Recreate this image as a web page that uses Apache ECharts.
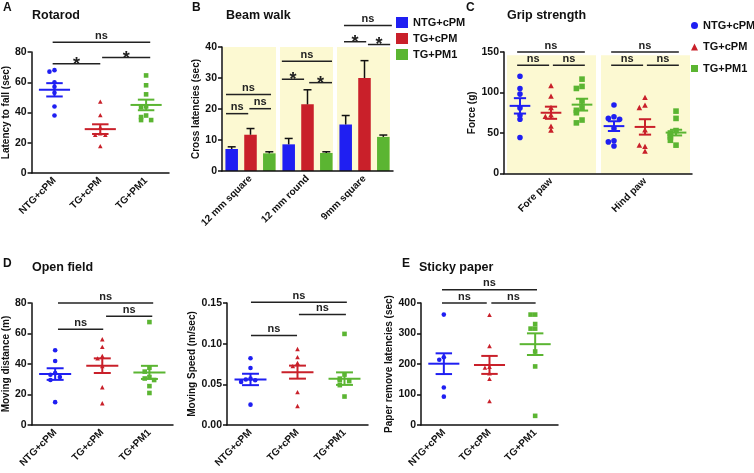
<!DOCTYPE html>
<html>
<head>
<meta charset="utf-8">
<script src="https://cdn.jsdelivr.net/npm/echarts@6/dist/echarts.min.js"></script>
<style>
html, body { margin: 0; padding: 0; background: #fff; }
#main { width: 754px; height: 473px; }
</style>
</head>
<body>
<div id="main"></div>
<script>
// groups and colours
var groups = ['NTG+cPM', 'TG+cPM', 'TG+PM1'];
var colors = ['#1f1ff2', '#c9202a', '#5bb532'];
var symbols = ['circle', 'triangle', 'rect'];

// A rotarod
var rotarodPts = [
    [68, 67, 60, 57, 53, 44, 38],
    [47, 38, 30, 26, 25, 25, 17.5],
    [64.5, 58, 52, 44, 43.5, 38, 37, 35, 35]
];
var rotarodMean = [55, 29, 45];
var rotarodSem = [4.4, 3.2, 3.5];
var rotarodSig = [[-0.04, 2.09, 86.5, 'ns'], [-0.04, 1.0, 72.3, '*'], [1.04, 2.09, 76.3, '*']];

// B beam walk
var beamCats = ['12 mm square', '12 mm round', '9mm square'];
var beamMean = [[7.1, 8.6, 15.0], [11.7, 21.5, 30.0], [5.7, 5.8, 11.0]];
var beamSem = [[0.7, 1.9, 2.9], [2.0, 4.7, 5.6], [0.5, 0.4, 0.6]];
var beamSig = [
    [-0.43, 0.36, 24.7, 'ns'], [-0.43, -0.04, 18.5, 'ns'], [-0.02, 0.36, 20.1, 'ns'],
    [0.55, 1.43, 35.4, 'ns'], [0.55, 0.94, 29.6, '*'], [1.03, 1.43, 28.5, '*'],
    [1.64, 2.48, 46.9, 'ns'], [1.64, 2.03, 41.7, '*'], [2.06, 2.45, 40.8, '*']
];

// C grip strength
var gripCats = ['Fore paw', 'Hind paw'];
var gripPts = [
    [120, 105, 98, 81, 72, 67, 44.5],
    [108, 95, 81, 72, 70, 58, 53],
    [116.5, 107.5, 105, 89.5, 81, 78, 75, 66, 62.5],
    [84.5, 70, 68, 67, 55.5, 40.5, 39, 34],
    [93.5, 84, 81, 53.5, 33, 34.5, 27],
    [77, 68, 53, 50, 47, 45, 41, 35]
];
var gripMean = [83.5, 75, 85, 58.5, 57.5, 50.5];
var gripSem = [9.5, 7.5, 7.3, 6, 9.5, 3.5];
var gripSig = [
    [-0.36, 0.36, 150, 'ns'], [-0.36, -0.02, 133.6, 'ns'], [0.02, 0.36, 133.6, 'ns'],
    [0.64, 1.36, 150, 'ns'], [0.64, 0.98, 133.6, 'ns'], [1.02, 1.36, 133.6, 'ns']
];

// D open field
var distPts = [
    [49, 42, 34, 33, 31.5, 29.5, 15],
    [56, 51, 45, 43.5, 38.5, 24.5, 14],
    [67.5, 37.5, 35, 31.5, 30.5, 29.5, 25.5, 21]
];
var distMean = [33.4, 38.9, 34.5];
var distSem = [3.8, 4.8, 4.3];
var distSig = [[0.06, 2.08, 80, 'ns'], [1.08, 2.06, 71.3, 'ns'], [0.06, 1.02, 62.8, 'ns']];

var speedPts = [
    [0.082, 0.070, 0.057, 0.056, 0.055, 0.053, 0.025],
    [0.093, 0.083, 0.076, 0.072, 0.040, 0.023],
    [0.112, 0.062, 0.057, 0.055, 0.054, 0.049, 0.035]
];
var speedMean = [0.056, 0.065, 0.057];
var speedSem = [0.007, 0.008, 0.0077];
var speedSig = [[0.01, 2.05, 0.151, 'ns'], [1.03, 2.03, 0.136, 'ns'], [0.01, 0.99, 0.110, 'ns']];

// E sticky paper
var stickyPts = [
    [362, 222, 214, 123, 93],
    [360, 258, 190, 187, 168, 150, 77],
    [362, 362, 331, 316, 316, 241, 192, 30]
];
var stickyMean = [201, 197, 265];
var stickySem = [34, 29.5, 35.5];
var stickySig = [[-0.04, 2.04, 443.7, 'ns'], [-0.04, 0.94, 400, 'ns'], [1.04, 2.01, 400, 'ns']];

var FONT = '"Liberation Sans", Arial, sans-serif';
var INK = '#111';

var chart = echarts.init(document.getElementById('main'));

// pixel position of (x in category units, value)
function toPx(api, x, v) {
    var p = api.coord([0, v]);
    var band = api.size([1, 0], [0, v])[0];
    return [p[0] + x * band, p[1], band];
}

// spread points that would overlap
function swarm(vals, thr, step) {
    var placed = [];
    return vals.map(function (v) {
        var k = placed.filter(function (p) { return Math.abs(p - v) < thr; }).length;
        placed.push(v);
        return k === 0 ? 0 : (k % 2 ? -1 : 1) * Math.ceil(k / 2) * step;
    });
}

function symbolShape(sym, x, y, r, col) {
    if (sym === 'circle') {
        return { type: 'circle', shape: { cx: x, cy: y, r: r }, style: { fill: col } };
    }
    if (sym === 'triangle') {
        return { type: 'polygon', shape: { points: [[x, y - r * 1.1], [x - r, y + r * 0.8], [x + r, y + r * 0.8]] }, style: { fill: col } };
    }
    return { type: 'rect', shape: { x: x - r, y: y - r, width: 2 * r, height: 2 * r }, style: { fill: col } };
}

function pointSeries(ax, name, vals, base, g, r, thr, step) {
    var jit = swarm(vals, thr, step);
    return {
        type: 'custom', name: name, xAxisIndex: ax, yAxisIndex: ax, z: 4, silent: true,
        itemStyle: { color: colors[g] },
        data: vals.map(function (v, i) { return [0, v, base + jit[i]]; }),
        renderItem: function (params, api) {
            var p = toPx(api, api.value(2), api.value(1));
            return symbolShape(symbols[g], p[0], p[1], r, colors[g]);
        }
    };
}

function meanSeries(ax, xs, means, sems, wm, wc) {
    return {
        type: 'custom', xAxisIndex: ax, yAxisIndex: ax, z: 5, silent: true,
        data: means.map(function (m, i) { return [0, m]; }),
        renderItem: function (params, api) {
            var i = params.dataIndex;
            var p = toPx(api, xs[i], means[i]);
            var band = p[2], x = p[0];
            var yt = api.coord([0, means[i] + sems[i]])[1];
            var yb = api.coord([0, means[i] - sems[i]])[1];
            var st = { stroke: colors[i % 3], lineWidth: 2 };
            return {
                type: 'group', children: [
                    { type: 'line', shape: { x1: x - wm * band / 2, y1: p[1], x2: x + wm * band / 2, y2: p[1] }, style: st },
                    { type: 'line', shape: { x1: x, y1: yt, x2: x, y2: yb }, style: st },
                    { type: 'line', shape: { x1: x - wc * band / 2, y1: yt, x2: x + wc * band / 2, y2: yt }, style: st },
                    { type: 'line', shape: { x1: x - wc * band / 2, y1: yb, x2: x + wc * band / 2, y2: yb }, style: st }
                ]
            };
        }
    };
}

function sigSeries(ax, list) {
    return {
        type: 'custom', xAxisIndex: ax, yAxisIndex: ax, z: 5, silent: true,
        data: list.map(function (d) { return [0, d[2]]; }),
        renderItem: function (params, api) {
            var d = list[params.dataIndex];
            var a = toPx(api, d[0], d[2]);
            var b = toPx(api, d[1], d[2]);
            var y = a[1];
            var star = d[3] === '*';
            return {
                type: 'group', children: [
                    { type: 'line', shape: { x1: a[0], y1: y, x2: b[0], y2: y }, style: { stroke: '#222', lineWidth: 1.5 } },
                    {
                        type: 'text', style: {
                            text: d[3], x: (a[0] + b[0]) / 2, y: star ? y + 1 : y - 1,
                            align: 'center', verticalAlign: star ? 'middle' : 'bottom',
                            font: 'bold ' + (star ? 18 : 11) + 'px ' + FONT, fill: '#222'
                        }
                    }
                ]
            };
        }
    };
}

function shadeSeries(ax, n, top, padL, padR) {
    var d = [];
    for (var i = 0; i < n; i++) d.push([i, top]);
    return {
        type: 'custom', xAxisIndex: ax, yAxisIndex: ax, z: 1, silent: true, data: d,
        renderItem: function (params, api) {
            var band = api.size([1, 0], [0, 0])[0];
            var p = api.coord([api.value(0), api.value(1)]);
            var b = api.coord([api.value(0), 0]);
            return {
                type: 'rect',
                shape: { x: p[0] - band / 2 + padL, y: p[1], width: band - padL - padR, height: b[1] - p[1] },
                style: { fill: '#fcf9d2' }
            };
        }
    };
}

function errSeries(ax, means, sems, g) {
    return {
        type: 'custom', xAxisIndex: ax, yAxisIndex: ax, z: 3, silent: true,
        data: means.map(function (m, i) { return [i, m, sems[i]]; }),
        renderItem: function (params, api) {
            var band = api.size([1, 0], [0, 0])[0];
            var c = api.value(0), m = api.value(1), s = api.value(2);
            var p0 = api.coord([c, m]);
            var x = p0[0] + (g - 1) * 0.33 * band;
            var y1 = api.coord([c, m + s])[1];
            var w = band * 0.07;
            var st = { stroke: INK, lineWidth: 1.5 };
            return {
                type: 'group', children: [
                    { type: 'line', shape: { x1: x, y1: p0[1], x2: x, y2: y1 }, style: st },
                    { type: 'line', shape: { x1: x - w, y1: y1, x2: x + w, y2: y1 }, style: st }
                ]
            };
        }
    };
}

function yAx(gi, min, max, interval, name, gap, fmt) {
    return {
        type: 'value', gridIndex: gi, min: min, max: max, interval: interval, z: 10,
        name: name, nameLocation: 'middle', nameGap: gap,
        nameTextStyle: { fontFamily: FONT, fontWeight: 'bold', fontSize: 10, color: INK },
        axisLine: { show: true, lineStyle: { color: INK, width: 1.5 } },
        axisTick: { show: true, length: 4, lineStyle: { color: INK, width: 1.5 } },
        axisLabel: { fontFamily: FONT, fontWeight: 'bold', fontSize: 10.5, color: INK, margin: 5, formatter: fmt },
        splitLine: { show: false }
    };
}

function xAx(gi, cats) {
    return {
        type: 'category', gridIndex: gi, data: cats, z: 10,
        axisLine: { lineStyle: { color: INK, width: 1.5 } },
        axisTick: { alignWithLabel: true, length: 4, lineStyle: { color: INK, width: 1.5 } },
        axisLabel: { rotate: 45, interval: 0, fontFamily: FONT, fontWeight: 'bold', fontSize: 10, color: INK, margin: 6 },
        splitLine: { show: false }
    };
}

var series = [];

// B bars first, so legends take their colours
groups.forEach(function (g, i) {
    series.push({
        type: 'bar', name: g, xAxisIndex: 1, yAxisIndex: 1, z: 2, silent: true,
        barWidth: '22%', barGap: '50%',
        itemStyle: { color: colors[i] },
        data: beamMean[i]
    });
});
series.push(shadeSeries(1, 3, 40, 1, 3));
groups.forEach(function (g, i) { series.push(errSeries(1, beamMean[i], beamSem[i], i)); });
series.push(sigSeries(1, beamSig));

// A
rotarodPts.forEach(function (v, i) { series.push(pointSeries(0, 'A' + i, v, i, i, 2.3, 2.8, 0.11)); });
series.push(meanSeries(0, [0, 1, 2], rotarodMean, rotarodSem, 0.68, 0.36));
series.push(sigSeries(0, rotarodSig));

// C
var gripX = [-0.33, 0, 0.33, 0.67, 1, 1.33];
series.push(shadeSeries(2, 2, 146, 3, 2));
gripPts.forEach(function (v, i) { series.push(pointSeries(2, groups[i % 3], v, gripX[i], i % 3, 2.8, 5, 0.06)); });
series.push(meanSeries(2, gripX, gripMean, gripSem, 0.22, 0.13));
series.push(sigSeries(2, gripSig));

// D
distPts.forEach(function (v, i) { series.push(pointSeries(3, 'D' + i, v, i, i, 2.3, 2.8, 0.1)); });
series.push(meanSeries(3, [0, 1, 2], distMean, distSem, 0.68, 0.36));
series.push(sigSeries(3, distSig));

speedPts.forEach(function (v, i) { series.push(pointSeries(4, 'S' + i, v, i, i, 2.3, 0.005, 0.1)); });
series.push(meanSeries(4, [0, 1, 2], speedMean, speedSem, 0.68, 0.36));
series.push(sigSeries(4, speedSig));

// E
stickyPts.forEach(function (v, i) { series.push(pointSeries(5, 'E' + i, v, i, i, 2.3, 14, 0.1)); });
series.push(meanSeries(5, [0, 1, 2], stickyMean, stickySem, 0.68, 0.36));
series.push(sigSeries(5, stickySig));

function ttl(text, left, top, size) {
    return { text: text, left: left, top: top, padding: 0, textStyle: { fontFamily: FONT, fontWeight: 'bold', fontSize: size, color: INK } };
}

var option = {
    animation: false,
    title: [
        ttl('A', 3, 2, 12), ttl('Rotarod', 32, 9, 12.5),
        ttl('B', 192, 2, 12), ttl('Beam walk', 226, 9, 12.5),
        ttl('C', 466, 2, 12), ttl('Grip strength', 507, 9, 12.5),
        ttl('D', 3, 258, 12), ttl('Open field', 32, 261, 12.5),
        ttl('E', 402, 258, 12), ttl('Sticky paper', 419, 261, 12.5)
    ],
    legend: [
        {
            left: 396, top: 17, orient: 'vertical', padding: 0, itemWidth: 12, itemHeight: 11, itemGap: 5, itemTextGap: 3,
            icon: 'rect', selectedMode: false,
            textStyle: { fontFamily: FONT, fontWeight: 'bold', fontSize: 11, color: INK },
            data: groups
        },
        {
            left: 691, top: 20, orient: 'vertical', padding: 0, itemWidth: 7, itemHeight: 7, itemGap: 10.5, itemTextGap: 3,
            selectedMode: false,
            textStyle: { fontFamily: FONT, fontWeight: 'bold', fontSize: 11, color: INK },
            data: [
                { name: groups[0], icon: 'circle' },
                { name: groups[1], icon: 'triangle' },
                { name: groups[2], icon: 'rect' }
            ]
        }
    ],
    grid: [
        { left: 31, top: 52, width: 138, height: 121 },
        { left: 222, top: 47, width: 171, height: 124 },
        { left: 504, top: 52, width: 188, height: 121.5 },
        { left: 29, top: 303, width: 144, height: 122 },
        { left: 227, top: 303, width: 141, height: 122 },
        { left: 421, top: 303, width: 137, height: 122 }
    ],
    xAxis: [
        xAx(0, groups), xAx(1, beamCats), xAx(2, gripCats),
        xAx(3, groups), xAx(4, groups), xAx(5, groups)
    ],
    yAxis: [
        yAx(0, 0, 80, 20, 'Latency to fall (sec)', 17),
        yAx(1, 0, 40, 10, 'Cross latencies (sec)', 20),
        yAx(2, 0, 150, 50, 'Force (g)', 27),
        yAx(3, 0, 80, 20, 'Moving distance (m)', 19),
        yAx(4, 0, 0.15, 0.05, 'Moving Speed (m/sec)', 29, function (v) { return v.toFixed(2); }),
        yAx(5, 0, 400, 100, 'Paper remove latencies (sec)', 26)
    ],
    series: series
};

chart.setOption(option);
</script>
</body>
</html>
